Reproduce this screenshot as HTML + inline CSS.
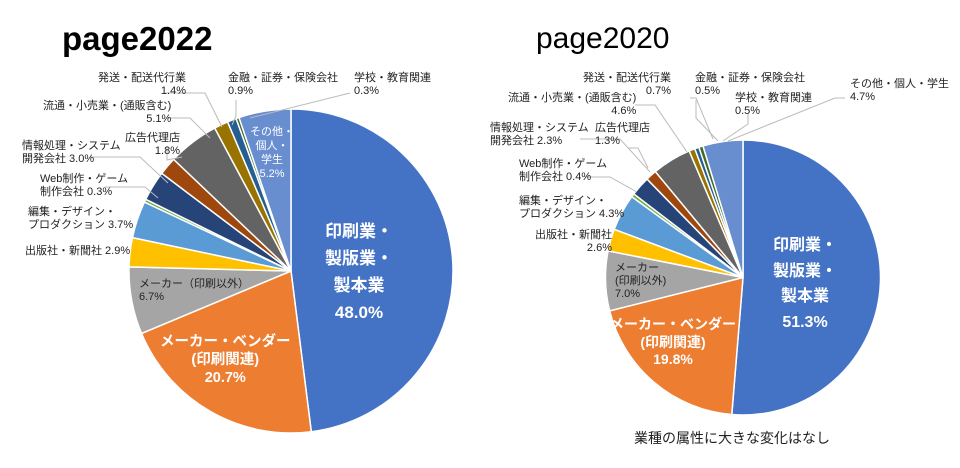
<!DOCTYPE html>
<html><head><meta charset="utf-8"><style>
body{margin:0;width:960px;height:468px;background:#fff;overflow:hidden;position:relative;font-family:"Liberation Sans","Noto Sans CJK JP",sans-serif;}
.l{position:absolute;font-size:11px;color:#222;line-height:13px;white-space:nowrap}
.r{text-align:right}
.w{position:absolute;color:#fff;font-weight:bold;text-align:center;white-space:nowrap}
svg{position:absolute;left:0;top:0}
</style></head><body>
<svg id="s" width="960" height="468"></svg>
<div style="position:absolute;left:62px;top:20px;font-size:33px;font-weight:bold;">page2022</div>
<div style="position:absolute;left:536px;top:22px;font-size:30px;">page2020</div>

<div class="l r" style="left:98px;top:72px">発送・配送代行業<br>1.4%</div>
<div class="l" style="left:228px;top:72px">金融・証券・保険会社<br>0.9%</div>
<div class="l" style="left:354px;top:72px">学校・教育関連<br>0.3%</div>
<div class="l r" style="left:43px;top:100px">流通・小売業・(通販含む)<br>5.1%</div>
<div class="l r" style="left:125px;top:132px">広告代理店<br>1.8%</div>
<div class="l" style="left:250px;top:125px;color:#fff;text-align:center;line-height:14px">その他・<br>個人・<br>学生<br>5.2%</div>
<div class="l" style="left:22px;top:140px">情報処理・システム<br>開発会社 3.0%</div>
<div class="l" style="left:40px;top:173px">Web制作・ゲーム<br>制作会社 0.3%</div>
<div class="l" style="left:28px;top:206px">編集・デザイン・<br>プロダクション 3.7%</div>
<div class="l" style="left:25px;top:245px">出版社・新聞社 2.9%</div>
<div class="l" style="left:139px;top:278px">メーカー（印刷以外）<br>6.7%</div>
<div class="w" style="left:325px;top:218px;font-size:17px;line-height:27px">印刷業・<br>製版業・<br>製本業<br>48.0%</div>
<div class="w" style="left:160px;top:333px;font-size:14.5px;line-height:18px">メーカー・ベンダー<br>(印刷関連)<br>20.7%</div>

<div class="l r" style="left:583px;top:72px">発送・配送代行業<br>0.7%</div>
<div class="l" style="left:695px;top:72px">金融・証券・保険会社<br>0.5%</div>
<div class="l" style="left:735px;top:92px">学校・教育関連<br>0.5%</div>
<div class="l" style="left:850px;top:78px">その他・個人・学生<br>4.7%</div>
<div class="l r" style="left:508px;top:92px">流通・小売業・(通販含む)<br>4.6%</div>
<div class="l" style="left:490px;top:122px">情報処理・システム<br>開発会社 2.3%</div>
<div class="l" style="left:595px;top:122px">広告代理店<br>1.3%</div>
<div class="l" style="left:519px;top:158px">Web制作・ゲーム<br>制作会社 0.4%</div>
<div class="l" style="left:519px;top:195px">編集・デザイン・<br>プロダクション 4.3%</div>
<div class="l r" style="left:535px;top:229px">出版社・新聞社<br>2.6%</div>
<div class="l" style="left:615px;top:262px">メーカー<br>(印刷以外)<br>7.0%</div>
<div class="w" style="left:773px;top:233px;font-size:16px;line-height:25.5px">印刷業・<br>製版業・<br>製本業<br>51.3%</div>
<div class="w" style="left:610px;top:316px;font-size:14px;line-height:17.5px">メーカー・ベンダー<br>(印刷関連)<br>19.8%</div>
<div style="position:absolute;left:634px;top:428px;font-size:14px;color:#222">業種の属性に大きな変化はなし</div>

<script>
var C=["#4472C4","#ED7D31","#A5A5A5","#FFC000","#5B9BD5","#70AD47","#264478","#9E480E","#636363","#997300","#255E91","#43682B","#698ED0"];
var A=[48.0,20.7,6.7,2.9,3.7,0.3,3.0,1.8,5.1,1.4,0.9,0.3,5.2];
var B=[51.3,19.8,7.0,2.6,4.3,0.4,2.3,1.3,4.6,0.7,0.5,0.5,4.7];
var s=document.getElementById('s'),h='';
function pie(d,cx,cy,r){var a=0;for(var i=0;i<d.length;i++){var a0=a/100*2*Math.PI,a1=(a+d[i])/100*2*Math.PI;a+=d[i];
var x0=cx+r*Math.sin(a0),y0=cy-r*Math.cos(a0),x1=cx+r*Math.sin(a1),y1=cy-r*Math.cos(a1);
h+='<path d="M'+cx+','+cy+'L'+x0+','+y0+'A'+r+','+r+' 0 '+(d[i]>50?1:0)+' 1 '+x1+','+y1+'Z" fill="'+C[i]+'" stroke="#fff" stroke-width="1.5"/>';}}
pie(A,291,271,162);pie(B,743,277.5,137.5);
var L=[[165,93,205,93,222,127],[236,100,236,116,232,125],[350,93,250,118],[168,118,190,118,210,138],[167,146,167,160,182,157],[90,157,140,157,168,183],[105,187,145,187,158,198],[165,282,152,282],
[690,98,696,98,713,139],[696,100,696,118,718,141],[748,113,748,124,723,141],[845,98,835,98,728,141],[635,105,655,105,687,152],[580,139,620,139,650,172],[628,148,638,148,648,168],[585,177,610,177,637,192]];
L.forEach(function(p){var q='';for(var i=0;i<p.length;i+=2)q+=p[i]+','+p[i+1]+' ';h+='<polyline points="'+q+'" fill="none" stroke="#bbb" stroke-width="1"/>';});
s.innerHTML=h;
</script>
</body></html>
